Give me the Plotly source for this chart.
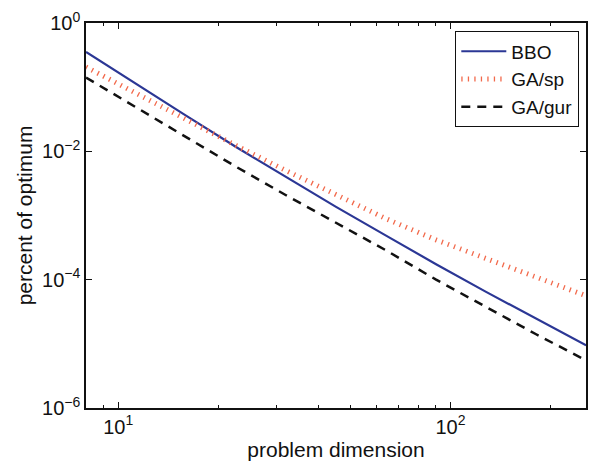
import plotly.graph_objects as go

dims = [8, 11.31, 16, 22.63, 32, 45.25, 64, 90.51, 128, 181.02, 256]
bbo = [0.355, 0.112, 0.0361, 0.0117, 0.00396, 0.00136, 0.000486, 0.000174, 0.0000646, 0.0000245, 0.00000946]
ga_sp = [0.206, 0.0794, 0.0309, 0.0123, 0.00501, 0.00209, 0.000891, 0.000417, 0.000214, 0.000110, 0.0000562]
ga_gur = [0.141, 0.0489, 0.0170, 0.00575, 0.00207, 0.000767, 0.000286, 0.0001, 0.0000372, 0.0000141, 0.00000552]

x_major = [10, 100]
x_major_text = ["10<sup>1</sup>", "10<sup>2</sup>"]
x_minor = [8, 9, 20, 30, 40, 50, 60, 70, 80, 90, 200]
y_major = [1, 1e-2, 1e-4, 1e-6]
y_major_text = ["10<sup>0</sup>", "10<sup>\u22122</sup>", "10<sup>\u22124</sup>", "10<sup>\u22126</sup>"]

fig = go.Figure()
fig.add_trace(go.Scatter(x=dims, y=bbo, mode="lines", name="BBO",
                         line=dict(color="#2b3795", width=2.2)))
fig.add_trace(go.Scatter(x=dims, y=ga_sp, mode="lines", name="GA/sp",
                         line=dict(color="rgb(242,105,75)", width=5, dash="1.3px,5.2px")))
fig.add_trace(go.Scatter(x=dims, y=ga_gur, mode="lines", name="GA/gur",
                         line=dict(color="#111111", width=2.5, dash="9px,7px")))

font = "Liberation Sans, Arial, Helvetica, sans-serif"
fig.update_layout(
    width=592, height=468,
    margin=dict(l=86, r=6, t=23, b=60),
    paper_bgcolor="white", plot_bgcolor="white",
    font=dict(family=font, size=19, color="#111111"),
    showlegend=True,
    legend=dict(x=0.986, y=0.979, xanchor="right", yanchor="top",
                bordercolor="#111111", borderwidth=1.3, bgcolor="white",
                font=dict(size=19), tracegroupgap=0, itemwidth=45),
    xaxis=dict(type="log", range=[0.903, 2.408], showgrid=False, zeroline=False,
               showline=True, linecolor="#111111", linewidth=1.5, mirror="ticks",
               ticks="inside", ticklen=6, tickcolor="#111111", tickwidth=1,
               tickmode="array", tickvals=x_major, ticktext=x_major_text,
               minor=dict(ticks="inside", ticklen=3, tickcolor="#111111", tickwidth=1,
                          tickmode="array", tickvals=x_minor, showgrid=False),
               title=dict(text="problem dimension", standoff=6, font=dict(size=21)),
               tickfont=dict(size=20), automargin=False),
    yaxis=dict(type="log", range=[-6, 0], showgrid=False, zeroline=False,
               showline=True, linecolor="#111111", linewidth=1.5, mirror="ticks",
               ticks="inside", ticklen=6, tickcolor="#111111", tickwidth=1,
               tickmode="array", tickvals=y_major, ticktext=y_major_text,
               title=dict(text="percent of optimum", standoff=4, font=dict(size=21)),
               tickfont=dict(size=20), automargin=False),
)
fig.write_html("out.html")
